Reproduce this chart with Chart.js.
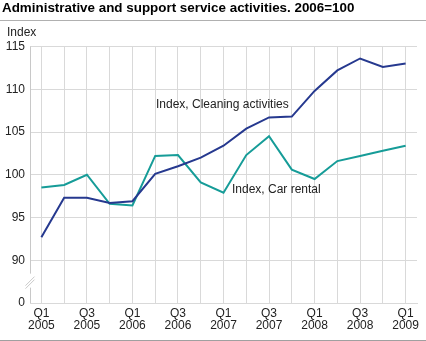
<!DOCTYPE html>
<html>
<head>
<meta charset="utf-8">
<script src="https://cdn.jsdelivr.net/npm/chart.js@4/dist/chart.umd.min.js"></script>
<style>
html,body{margin:0;padding:0;background:#fff;}
#wrap{position:relative;width:426px;height:341px;}
</style>
</head>
<body>
<div id="wrap"><canvas id="c" width="426" height="341"></canvas></div>
<script>
const titleText = 'Administrative and support service activities. 2006=100';
const yAxisLabel = 'Index';
const categories = ['Q1 2005','Q2 2005','Q3 2005','Q4 2005','Q1 2006','Q2 2006','Q3 2006','Q4 2006','Q1 2007','Q2 2007','Q3 2007','Q4 2007','Q1 2008','Q2 2008','Q3 2008','Q4 2008','Q1 2009'];
const cleaning = [92.7, 97.3, 97.3, 96.7, 96.9, 100.1, 101.0, 102.0, 103.4, 105.4, 106.7, 106.8, 109.8, 112.2, 113.6, 112.6, 113.0];
const carRental = [98.5, 98.8, 100.0, 96.6, 96.4, 102.2, 102.3, 99.1, 97.9, 102.3, 104.5, 100.6, 99.5, 101.6, 102.2, 102.8, 103.4];
const seriesNames = ['Index, Cleaning activities', 'Index, Car rental'];
const yTickValues = [85, 90, 95, 100, 105, 110, 115];
const yTickLabels = ['0', '90', '95', '100', '105', '110', '115'];

const FONT = '"Liberation Sans", Arial, sans-serif';
const GRID = '#d9d9d9';

const decor = {
  id: 'decor',
  afterDraw(chart) {
    const ctx = chart.ctx;
    const ca = chart.chartArea;
    const y = chart.scales.y;
    ctx.save();
    // title
    ctx.fillStyle = '#000';
    ctx.font = 'bold 13.4px ' + FONT;
    ctx.textBaseline = 'middle';
    ctx.textAlign = 'left';
    ctx.fillText(titleText, 2, 8.5);
    // title separator
    ctx.strokeStyle = '#b0b0b0';
    ctx.lineWidth = 1;
    ctx.beginPath(); ctx.moveTo(0, 20.5); ctx.lineTo(426, 20.5); ctx.stroke();
    // bottom line
    ctx.strokeStyle = '#a0a0a0';
    ctx.beginPath(); ctx.moveTo(0, 340.5); ctx.lineTo(426, 340.5); ctx.stroke();
    // Index label
    ctx.font = '12px ' + FONT;
    ctx.fillStyle = '#222';
    ctx.fillText(yAxisLabel, 7, 33);
    // left axis with break
    const lx = Math.round(ca.left) + 0.5;
    const y90 = y.getPixelForValue(90);
    const yb = y.getPixelForValue(85);
    const mid = (y90 + yb) / 2;
    ctx.strokeStyle = '#c8c8c8';
    ctx.beginPath();
    ctx.moveTo(lx, ca.top); ctx.lineTo(lx, mid - 8);
    ctx.moveTo(lx, mid + 6); ctx.lineTo(lx, ca.bottom);
    ctx.stroke();
    ctx.beginPath();
    ctx.moveTo(lx - 5, mid + 4); ctx.lineTo(lx + 4, mid - 5);
    ctx.moveTo(lx - 5, mid + 7); ctx.lineTo(lx + 4, mid - 2);
    ctx.stroke();
    // series labels
    ctx.fillStyle = '#222';
    ctx.font = '12px ' + FONT;
    ctx.textBaseline = 'middle';
    ctx.fillText(seriesNames[0], 156, 105);
    ctx.fillText(seriesNames[1], 232, 190);
    ctx.restore();
  }
};

new Chart(document.getElementById('c'), {
  type: 'line',
  data: {
    labels: categories,
    datasets: [
      { label: seriesNames[0], data: cleaning, borderColor: '#26398f', borderWidth: 2, pointRadius: 0, tension: 0, fill: false },
      { label: seriesNames[1], data: carRental, borderColor: '#169c98', borderWidth: 2, pointRadius: 0, tension: 0, fill: false }
    ]
  },
  options: {
    responsive: false,
    animation: false,
    devicePixelRatio: 1,
    layout: { padding: { left: 0, right: 9, top: 46.5, bottom: 0 } },
    plugins: { legend: { display: false }, title: { display: false }, tooltip: { enabled: false } },
    scales: {
      x: {
        type: 'category',
        offset: true,
        grid: { color: GRID, offset: false, drawTicks: false, lineWidth: 1 },
        border: { display: true, color: GRID },
        afterFit(s) { s.height = 38; },
        ticks: {
          autoSkip: false, maxRotation: 0, minRotation: 0, padding: 5,
          color: '#222', font: { family: FONT, size: 12, lineHeight: 0.97 },
          callback(v, i) { if (i % 2) return ''; const p = categories[i].split(' '); return [p[0], p[1]]; }
        }
      },
      y: {
        min: 85, max: 115,
        afterFit(s) { s.width = 30; },
        afterBuildTicks(s) { s.ticks = yTickValues.map(v => ({ value: v })); },
        grid: { color: GRID, drawTicks: false, lineWidth: 1 },
        border: { display: false },
        ticks: {
          padding: 5, color: '#222', font: { family: FONT, size: 12 },
          callback(v) { const i = yTickValues.indexOf(v); return i >= 0 ? yTickLabels[i] : ''; }
        }
      }
    }
  },
  plugins: [decor]
});
</script>
</body>
</html>
